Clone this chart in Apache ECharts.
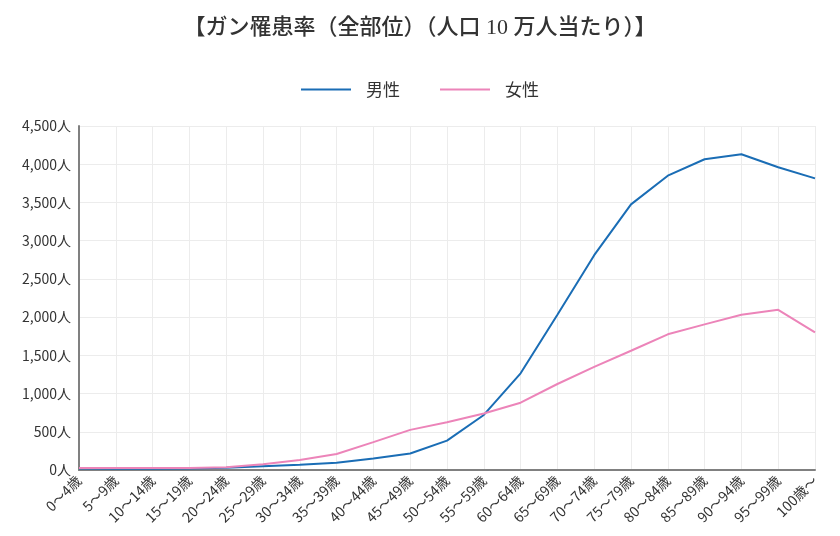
<!DOCTYPE html>
<html><head><meta charset="utf-8">
<script src="https://cdn.jsdelivr.net/npm/echarts@6/dist/echarts.min.js"></script>
<style>html,body{margin:0;padding:0;background:#fff}#c{width:840px;height:536px}</style>
</head><body><div id="c"></div>
<script>
const categories = ["0～4歳","5～9歳","10～14歳","15～19歳","20～24歳","25～29歳","30～34歳","35～39歳","40～44歳","45～49歳","50～54歳","55～59歳","60～64歳","65～69歳","70～74歳","75～79歳","80～84歳","85～89歳","90～94歳","95～99歳","100歳～"];
const maleValues = [20,15,15,20,30,50,70,95,150,215,385,720,1265,2030,2810,3475,3850,4065,4130,3960,3815];
const femaleValues = [25,25,25,25,35,75,130,210,365,525,625,740,880,1125,1350,1560,1775,1905,2030,2095,1800];
const seriesNames = ["男性","女性"];
const titleText = "【ガン罹患率（全部位）（人口 10 万人当たり）】";

const chart = echarts.init(document.getElementById('c'));
const font = '"Noto Sans CJK JP","Noto Sans",sans-serif';
chart.setOption({
  animation:false,
  title:{text:titleText,left:'center',top:12,textStyle:{fontFamily:'"Liberation Serif","Noto Sans CJK JP",serif',fontSize:22,fontWeight:500,color:'#333'}},
  legend:{top:76,left:'center',icon:'rect',itemWidth:50,itemHeight:2,itemGap:40,textStyle:{fontFamily:font,fontSize:17,color:'#333',padding:[0,0,0,10]},data:seriesNames},
  grid:{left:79,right:25,top:126,bottom:66,containLabel:false},
  xAxis:{type:'category',data:categories,boundaryGap:false,
    axisLine:{lineStyle:{color:'#808080',width:2}},axisTick:{show:false},
    axisLabel:{rotate:45,fontFamily:font,fontSize:14,color:'#333',margin:8,interval:0},
    splitLine:{show:true,lineStyle:{color:'#ececec'}}},
  yAxis:{type:'value',min:0,max:4500,interval:500,
    axisLine:{show:true,lineStyle:{color:'#808080',width:2}},axisTick:{show:false},
    axisLabel:{fontFamily:font,fontSize:14,color:'#333',margin:8,formatter:v=>v.toLocaleString('en-US')+'人'},
    splitLine:{lineStyle:{color:'#ececec'}}},
  series:[
    {name:seriesNames[0],type:'line',data:maleValues,symbol:'none',lineStyle:{color:'#1a6db5',width:2},itemStyle:{color:'#1a6db5'}},
    {name:seriesNames[1],type:'line',data:femaleValues,symbol:'none',lineStyle:{color:'#ec84b9',width:2},itemStyle:{color:'#ec84b9'}}
  ]
});
</script></body></html>
